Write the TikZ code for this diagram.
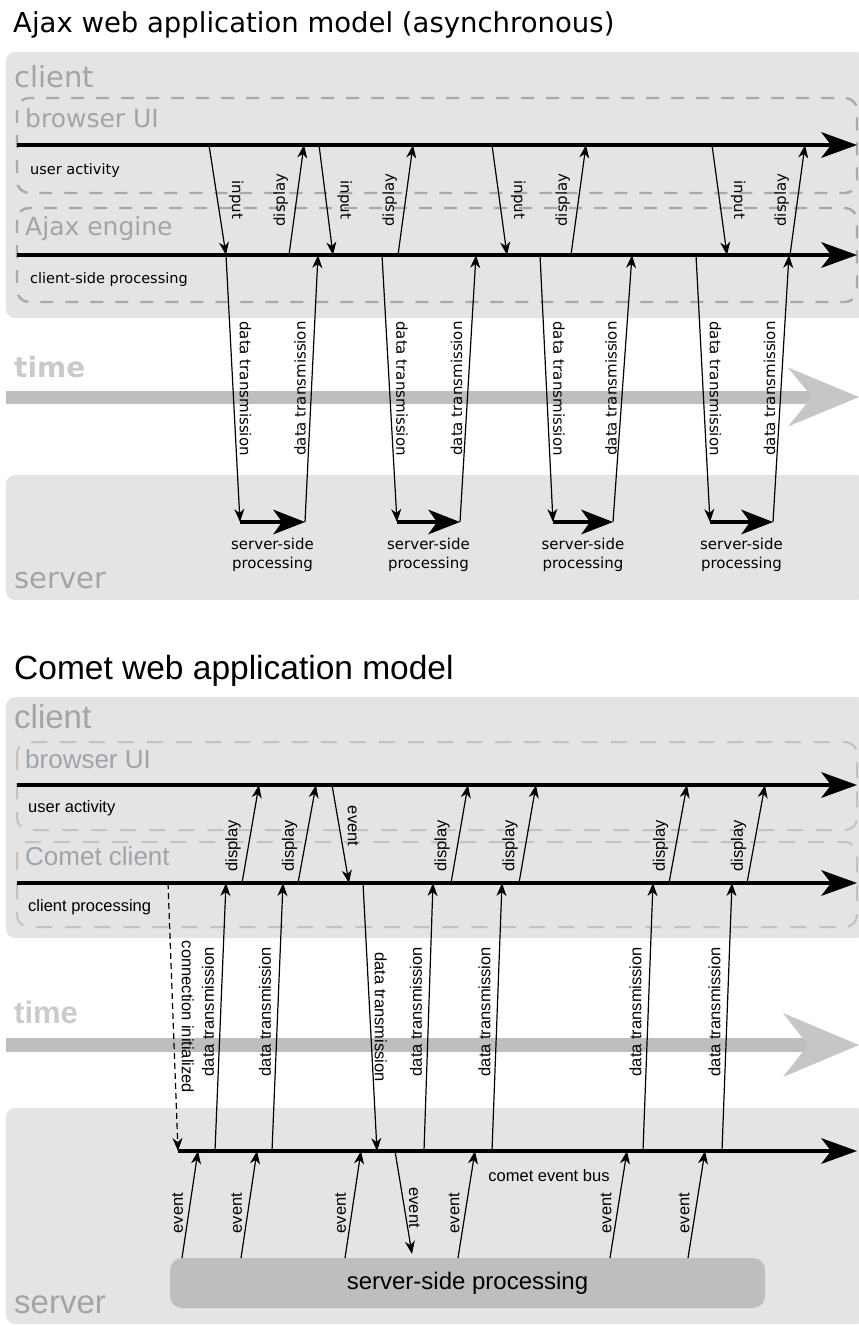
\documentclass[tikz,border=0pt]{standalone}
\usepackage{fontspec}
\setmainfont{DejaVu Sans}
\newfontfamily\cometfont{Liberation Sans}
\usetikzlibrary{arrows.meta, positioning}

\definecolor{panelgray}{HTML}{E4E4E4}
\definecolor{lanegray}{HTML}{A9A9A9}
\definecolor{clanegray}{HTML}{C2C2C2}
\definecolor{areagray}{HTML}{A4A4A4}
\definecolor{careagray}{HTML}{9EA4AA}
\definecolor{timegray}{HTML}{BEBEBE}
\definecolor{timehead}{HTML}{C6C6C6}
\definecolor{timetext}{HTML}{CACACA}
\definecolor{procgray}{HTML}{BEBEBE}

\newcommand{\fsz}[1]{\fontsize{#1}{#1}\selectfont}

\tikzset{%
	panel/.style={fill=panelgray, rounded corners=9pt},
	lane/.style={draw=lanegray, line width=2.4pt, dash pattern=on 13pt off 12pt, rounded corners=12pt},
	clane/.style={lane, draw=clanegray, line width=2pt, dash pattern=on 16pt off 13pt},
	timeline/.style={line width=4pt, -{Stealth[length=36pt, width=26pt, inset=10pt, line width=0pt]}},
	procline/.style={line width=4pt, -{Stealth[length=32pt, width=25pt, inset=9pt, line width=0pt]}},
	timebar/.style={draw=timegray},
	msg/.style={line width=1.2pt, -{Stealth[length=13pt, width=10pt, inset=4pt]}},
	tagdown/.style={midway, anchor=south, rotate=-90, inner sep=3pt},
	tagup/.style={midway, anchor=south, rotate=90, inner sep=3pt},
	area/.style={anchor=base west, inner sep=0pt, text=areagray},
	lanename/.style={anchor=base west, inner sep=0pt},
	procbox/.style={fill=procgray, rounded corners=12pt, minimum width=595pt, minimum height=50pt}
}

\begin{document}
\begin{tikzpicture}[x=1pt, y=-1pt]
	\useasboundingbox (0,0) rectangle (859,1326);

	%% ---------- Ajax model ----------
	\node[anchor=base west, inner sep=0pt, font=\fsz{27.5}] (ajaxtitle) at (13,32) {Ajax web application model (asynchronous)};

	\fill[panel] (6,52) rectangle (866,318);
	\fill[panel] (6,475) rectangle (866,600);
	\draw[lane] (17,98) rectangle (857,193);
	\draw[lane] (17,208) rectangle (857,302);

	\node[area, font=\fsz{29}] (client) at (14,87) {client};
	\node[area, font=\fsz{25}] (ui) at (25,127) {browser UI};
	\node[area, font=\fsz{25}] (engine) at (25,235) {Ajax engine};
	\node[area, font=\bfseries\fsz{28}, text=timetext] (time) at (14,377) {time};
	\node[area, font=\fsz{29}] (server) at (14,588) {server};
	\node[lanename, font=\fsz{14.5}] (ua) at (30,174) {user activity};
	\node[lanename, font=\fsz{14.5}] (csp) at (30,283) {client-side processing};

	% time
	\coordinate (t-start) at (6,397);
	\coordinate (t-end) at (859,397);
	\draw[timebar, line width=13pt, -{Stealth[length=71pt, width=59pt, inset=24pt, line width=0pt, color=timehead]}] (t-start) -- (t-end);

	% lanes
	\coordinate (ua-start) at (17,145);
	\coordinate (ua-end) at (857,145);
	\coordinate (cp-start) at (17,255);
	\coordinate (cp-end) at (857,255);
	\draw[timeline] (ua-start) -- (ua-end);
	\draw[timeline] (cp-start) -- (cp-end);

	\begin{scope}[font=\fsz{15}]
	\foreach \a/\b/\c/\d [count=\k] in {209/226/289/304, 319/333/398/413, 492/507/571/586, 712/727/790/805} {
		\coordinate (in-top\k) at (\a,145);
		\coordinate (in-bot\k) at (\b,255);
		\coordinate (out-bot\k) at (\c,255);
		\coordinate (out-top\k) at (\d,145);
		\draw[msg] (in-top\k) -- node[tagdown, inner sep=11pt] {input} (in-bot\k);
		\draw[msg] (out-bot\k) -- node[tagup, inner sep=8pt] {display} (out-top\k);
	}
	\foreach \a/\b/\c/\d [count=\k] in {226/240/305/318, 382/397/460/476, 540/553/613/632, 696/710/773/789} {
		\coordinate (req-top\k) at (\a,255);
		\coordinate (req-bot\k) at (\b,522);
		\coordinate (resp-bot\k) at (\c,522);
		\coordinate (resp-top\k) at (\d,255);
		\draw[msg] (req-top\k) -- node[tagdown, inner sep=6pt] {data transmission} (req-bot\k);
		\draw[procline] (req-bot\k) -- node[below=12pt, inner sep=2pt, align=center, font=\fontsize{15}{19}\selectfont] {server-side\\processing} (resp-bot\k);
		\draw[msg] (resp-bot\k) -- node[tagup, inner sep=5pt] {data transmission} (resp-top\k);
	}
	\end{scope}

	%% ---------- Comet model ----------
	\node[anchor=base west, inner sep=0pt, font=\cometfont\fsz{33.5}] (comettitle) at (14,679) {Comet web application model};

	\fill[panel] (6,697) rectangle (866,938);
	\fill[panel] (6,1108) rectangle (866,1324);
	\draw[clane] (17,742) rectangle (857,830);
	\draw[clane] (17,842) rectangle (857,927);

	\node[area, font=\cometfont\fsz{33}] (cclient) at (14,728) {client};
	\node[area, font=\cometfont\fsz{26}, text=careagray] (cui) at (25,768) {browser UI};
	\node[area, font=\cometfont\fsz{26}, text=careagray] (cengine) at (25,865) {Comet client};
	\node[area, font=\cometfont\bfseries\fsz{31}, text=timetext] (ctime) at (14,1023) {time};
	\node[area, font=\cometfont\fsz{33}] (cserver) at (14,1313) {server};
	\node[lanename, font=\cometfont\fsz{16.5}] (cua) at (28,812) {user activity};
	\node[lanename, font=\cometfont\fsz{16.5}] (ccp) at (28,911) {client processing};

	% time
	\coordinate (ct-start) at (6,1045);
	\coordinate (ct-end) at (859,1045);
	\draw[timebar, line width=14pt, -{Stealth[length=76pt, width=64pt, inset=25pt, line width=0pt, color=timehead]}] (ct-start) -- (ct-end);

	% lanes and bus
	\coordinate (cua-start) at (17,785);
	\coordinate (cua-end) at (857,785);
	\coordinate (ccp-start) at (17,883);
	\coordinate (ccp-end) at (857,883);
	\coordinate (bus-start) at (178,1151);
	\coordinate (bus-end) at (857,1151);
	\draw[timeline] (cua-start) -- (cua-end);
	\draw[timeline] (ccp-start) -- (ccp-end);
	\draw[timeline] (bus-start) -- (bus-end);
	\node[anchor=base, font=\cometfont\fsz{16.5}] (buslabel) at (549,1181) {comet event bus};

	\node[procbox, font=\cometfont\fsz{24}] (proc) at (467.5,1283) {server-side processing};

	\begin{scope}[font=\cometfont\fsz{16.5}]
	\foreach \a/\b [count=\k] in {242/259, 298/316, 451/468, 519/536, 669/687, 747/765} {
		\coordinate (show-bot\k) at (\a,883);
		\coordinate (show-top\k) at (\b,785);
		\draw[msg] (show-bot\k) -- node[tagup, pos=0.38, inner sep=7pt] {display} (show-top\k);
	}
	\coordinate (click-top) at (332,785);
	\coordinate (click-bot) at (349,883);
	\draw[msg] (click-top) -- node[tagdown, pos=0.42, inner sep=8pt] {event} (click-bot);

	\coordinate (conn-top) at (168,883);
	\coordinate (conn-bot) at (178,1151);
	\draw[msg, dash pattern=on 6pt off 4pt] (conn-top) -- node[tagdown, inner sep=8pt] {connection initialized} (conn-bot);

	\foreach \a/\b [count=\k] in {215/226, 272/283, 424/433, 492/502, 643/653, 722/732} {
		\coordinate (push-bot\k) at (\a,1151);
		\coordinate (push-top\k) at (\b,883);
		\draw[msg] (push-bot\k) -- node[tagup, pos=0.52, inner sep=6pt] {data transmission} (push-top\k);
	}
	\coordinate (send-top) at (363,883);
	\coordinate (send-bot) at (377,1151);
	\draw[msg] (send-top) -- node[tagdown, inner sep=4pt] {data transmission} (send-bot);

	\foreach \a/\b [count=\k] in {182/198, 241/257, 345/361, 458/475, 610/627, 688/705} {
		\coordinate (ev-bot\k) at (\a,1258);
		\coordinate (ev-top\k) at (\b,1151);
		\draw[msg] (ev-bot\k) -- node[tagup, pos=0.42, inner sep=5pt] {event} (ev-top\k);
	}
	\coordinate (evdown-top) at (395,1151);
	\coordinate (evdown-bot) at (412,1254);
	\draw[msg] (evdown-top) -- node[tagdown, pos=0.55, inner sep=4pt] {event} (evdown-bot);
	\end{scope}
\end{tikzpicture}
\end{document}
